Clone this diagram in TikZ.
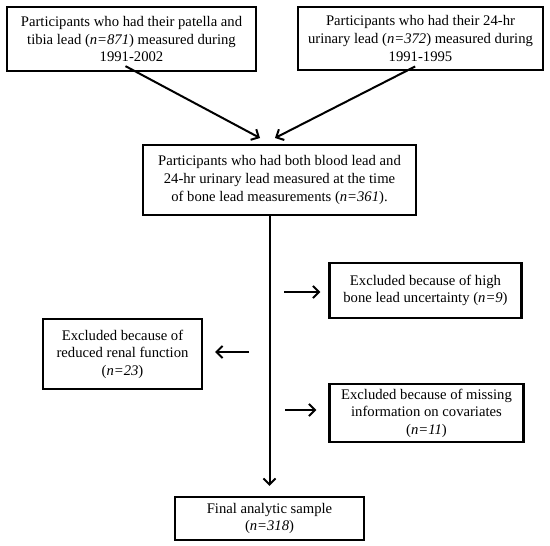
\documentclass[tikz,border=0pt]{standalone}
\usepackage{fontspec}
\setmainfont{Liberation Serif}
\usepackage{tikz}
\usetikzlibrary{arrows.meta}

\begin{document}
\begin{tikzpicture}[x=0.75pt,y=0.75pt,yscale=-1,xscale=1,
  stagebox/.style={draw, line width=1.7pt, inner sep=0pt, align=center,
    font=\fontsize{11}{13.2}\selectfont},
  flowarrow/.style={line width=1.5pt, -{Straight Barb[length=4.5pt,width=9pt,line width=1.5pt]}}]
\useasboundingbox (0,0) rectangle (550,546); %diagram of 550 x 546

% Text Node
\node [stagebox, minimum width=186.75pt, minimum height=48pt] (patella) at (131.5,39)
  {Participants who had their patella and\\ tibia lead (\textit{n=871}) measured during\\ 1991-2002};
% Text Node
\node [stagebox, minimum width=183.75pt, minimum height=47.25pt] (urinary) at (420.5,38.5)
  {Participants who had their 24-hr\\ urinary lead (\textit{n=372}) measured during\\ 1991-1995};
% Text Node
\node [stagebox, minimum width=204.75pt, minimum height=52.5pt] (both) at (279.5,180)
  {Participants who had both blood lead and\\ 24-hr urinary lead measured at the time\\ of bone lead measurements (\textit{n=361}).};
% Text Node
\node [stagebox, minimum width=144pt, minimum height=41.25pt] (uncert) at (425.5,290.5)
  {Excluded because of high\\ bone lead uncertainty (\textit{n=9})};
% Text Node
\node [stagebox, minimum width=119.25pt, minimum height=52.5pt] (renal) at (122.5,354)
  {Excluded because of\\ reduced renal function\\ (\textit{n=23})};
% Text Node
\node [stagebox, minimum width=145.5pt, minimum height=43.5pt] (covar) at (426.5,413)
  {Excluded because of missing\\ information on covariates\\ (\textit{n=11})};
% Text Node
\node [stagebox, minimum width=141.75pt, minimum height=32.25pt] (final) at (269.5,518.5)
  {Final analytic sample\\ (\textit{n=318})};

% free ends of the arrows
\coordinate (tipA) at (260,138);
\coordinate (tipB) at (275,138);
\coordinate (sideA) at (284,292);
\coordinate (sideB) at (249,352);
\coordinate (sideC) at (285,410);

%Straight Lines
\draw [flowarrow] ([xshift=-4.5pt,yshift=-4.5pt]patella.south) -- (tipA);
%Straight Lines
\draw [flowarrow] ([xshift=-4pt,yshift=-3.5pt]urinary.south) -- (tipB);
%Straight Lines
\draw [flowarrow, shorten >=7.5pt] (both.south -| final.north) -- (final.north);
%Straight Lines
\draw [flowarrow, shorten >=6pt] (sideA) -- (sideA -| uncert.west);
%Straight Lines
\draw [flowarrow, shorten >=9pt] (sideB) -- (sideB -| renal.east);
%Straight Lines
\draw [flowarrow, shorten >=9pt] (sideC) -- (sideC -| covar.west);

\end{tikzpicture}
\end{document}
